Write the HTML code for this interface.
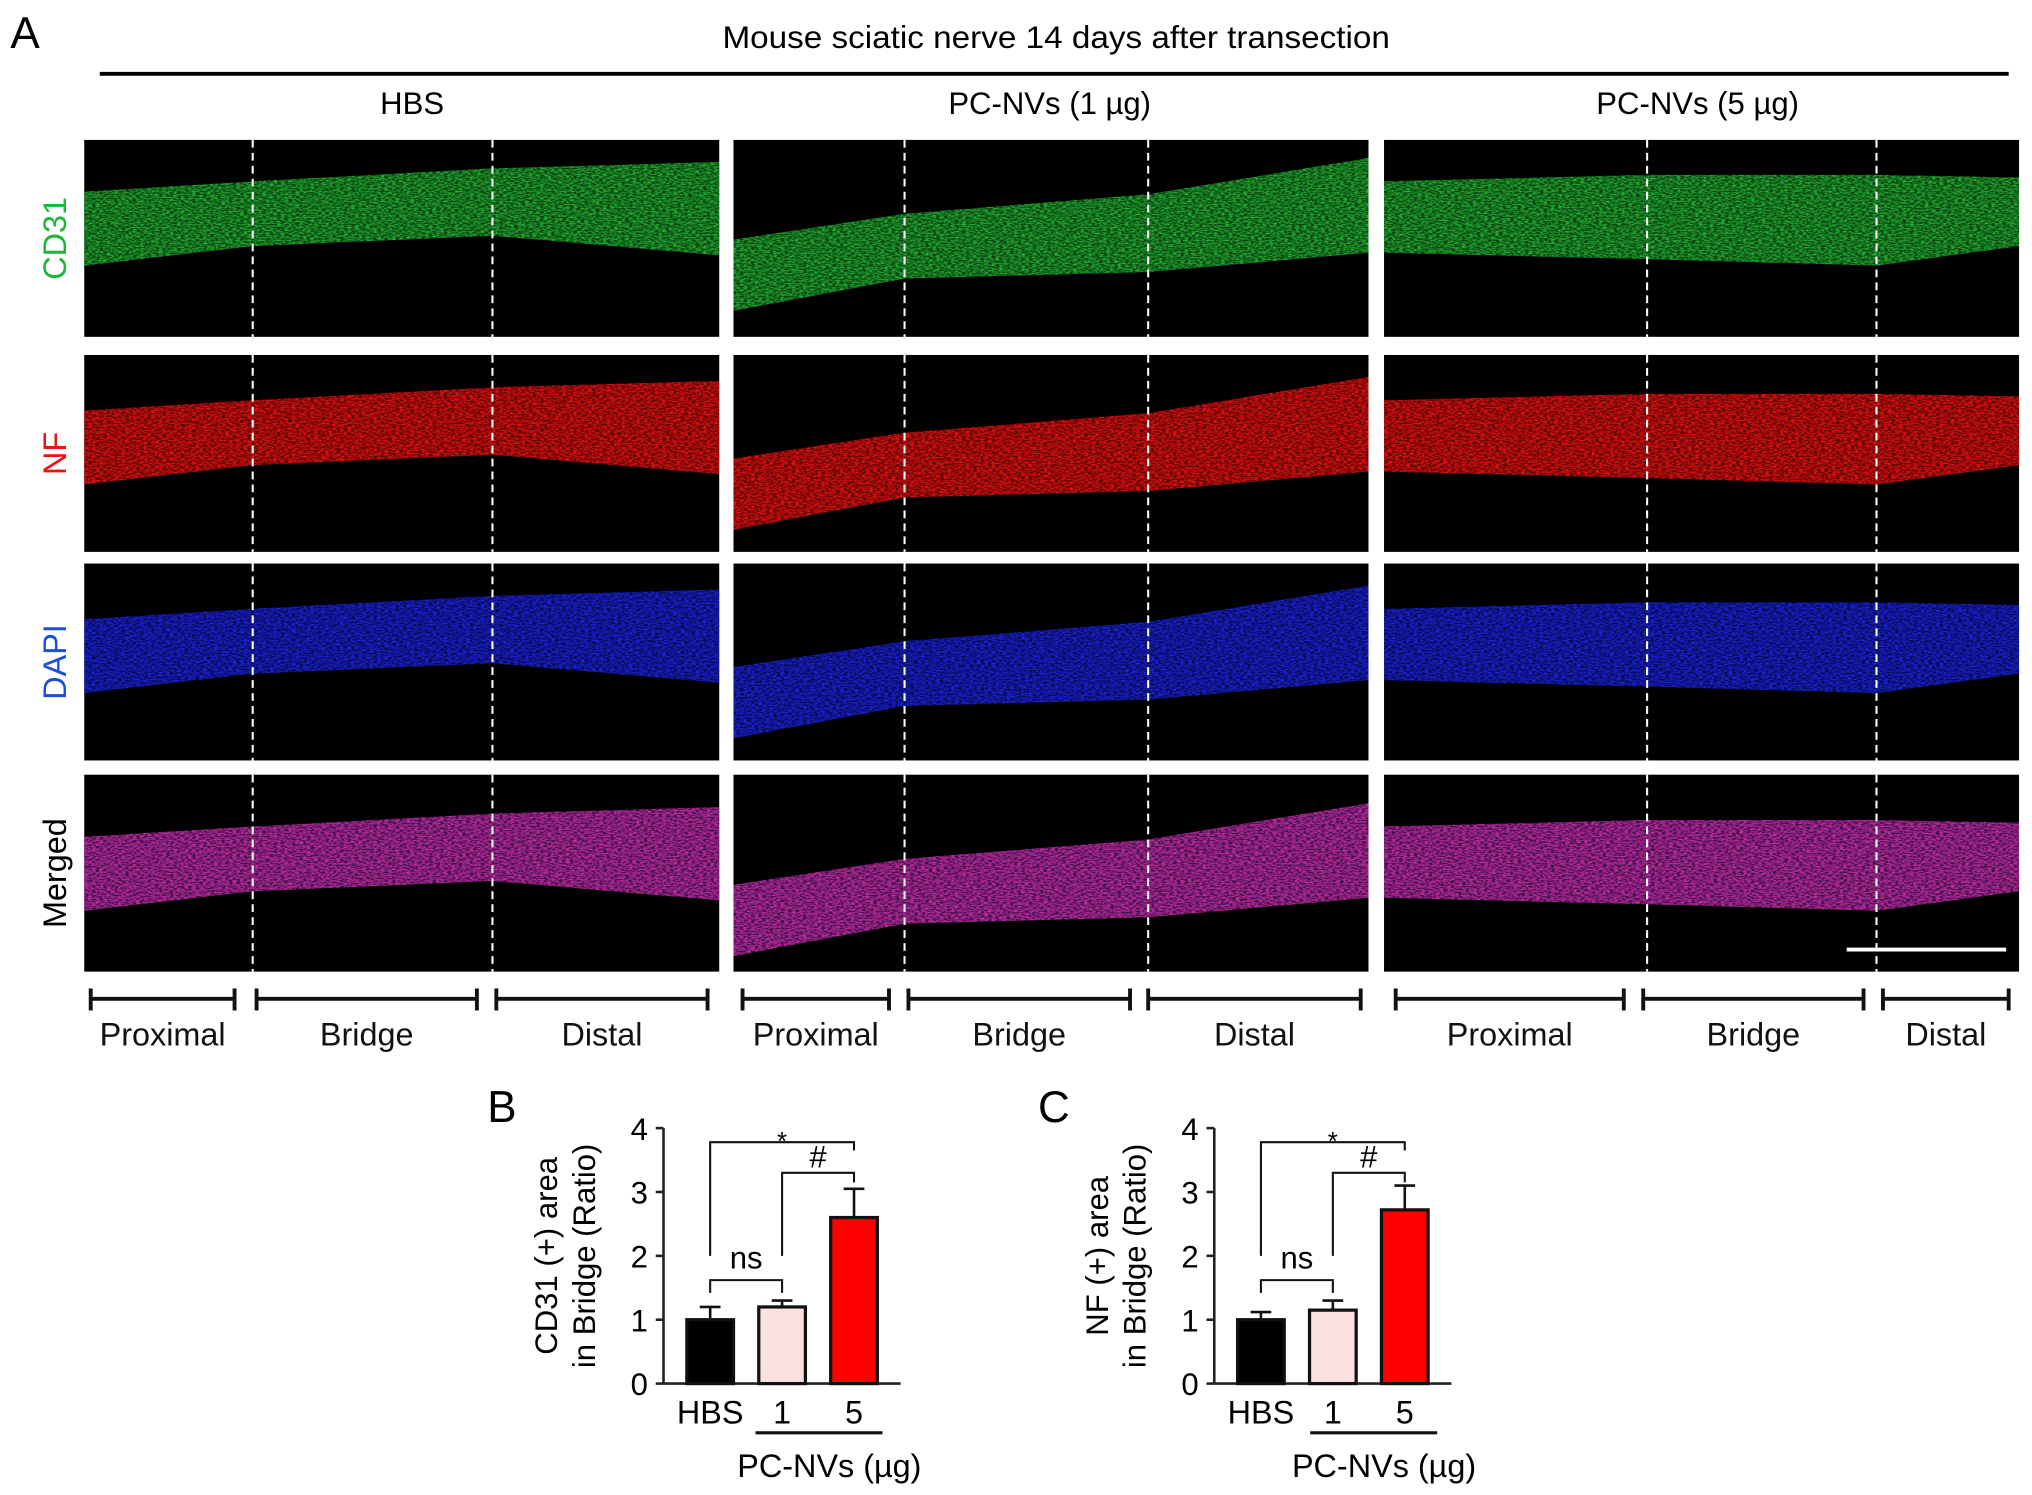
<!DOCTYPE html>
<html><head><meta charset="utf-8">
<style>
html,body{margin:0;padding:0;background:#fff;}
svg{display:block;font-family:"Liberation Sans",Arial,sans-serif;}
</style></head>
<body>
<svg id="fig" width="2032" height="1495" viewBox="0 0 1568 1154" preserveAspectRatio="none" xmlns="http://www.w3.org/2000/svg">
<defs>
<filter id="tex" x="0" y="0" width="100%" height="100%">
<feTurbulence type="fractalNoise" baseFrequency="0.35 0.9" numOctaves="2" seed="3" result="n"/>
<feColorMatrix in="n" type="matrix" values="0 0 0 0 0  0 0 0 0 0  0 0 0 0 0  0 0 0 2.2 -0.6" result="a"/>
<feComposite in="SourceGraphic" in2="a" operator="in"/>
</filter>
</defs>
<text x="8" y="37" font-size="34">A</text>
<text x="815" y="37" font-size="24" text-anchor="middle" textLength="515" lengthAdjust="spacingAndGlyphs">Mouse sciatic nerve 14 days after transection</text>
<line x1="77" y1="57" x2="1550" y2="57" stroke="#000" stroke-width="3"/>
<text x="318" y="88" font-size="24" text-anchor="middle">HBS</text>
<text x="810" y="88" font-size="24" text-anchor="middle">PC-NVs (1 µg)</text>
<text x="1310" y="88" font-size="24" text-anchor="middle">PC-NVs (5 µg)</text>
<g id="rowlabels"></g>
<g id="panels"></g>
<g id="brackets"></g>
<g id="chartB"></g>
<g id="chartC"></g>
</svg>
<script>
const NS="http://www.w3.org/2000/svg";
function mk(tag,attrs,parent){const e=document.createElementNS(NS,tag);for(const k in attrs)e.setAttribute(k,attrs[k]);parent.appendChild(e);return e;}

const rowNames=["CD31","NF","DAPI","Merged"];
const rowColors=["#1db53a","#ee1111","#1a4fd8","#000"];
const rowTops=[108,274,435,598];
const rowH=152;
const RL=document.getElementById('rowlabels');
rowNames.forEach((n,i)=>{
  const cy=rowTops[i]+rowH/2;
  const t=mk('text',{x:0,y:0,'font-size':25,'text-anchor':'middle',fill:rowColors[i],transform:`translate(51,${cy}) rotate(-90)`},RL);
  
  
  t.textContent=n;
});

const colX=[65,566,1068], colW=490;
const dashes=[[195,380],[698,886],[1271,1448]];
const bandTop=[[40,32,22,17],[77,57,42,14],[32,27,27,29]];
const bandBot=[[97,82,74,89],[132,107,102,87],[87,92,97,82]];
const fills=["#20b030","#ee1010","#1a22e0","#a030c8"];
const P=document.getElementById('panels');
for(let c=0;c<3;c++){
  for(let r=0;r<4;r++){
    const y0=rowTops[r], x0=colX[c];
    const g=mk('g',{},P);
    
    
    mk('rect',{x:x0,y:y0,width:colW,height:rowH,fill:"#000"},g);
    const xs=[x0,dashes[c][0],dashes[c][1],x0+colW];
    const off=(r==0?0:(r==3?8:3));
    let pts=xs.map((x,k)=>`${x},${y0+bandTop[c][k]+off}`).concat(xs.slice().reverse().map((x,k)=>`${x},${y0+bandBot[c][3-k]+off}`)).join(' ');
    mk('polygon',{points:pts,fill:fills[r],opacity:0.3},g);
    mk('polygon',{points:pts,fill:fills[r],filter:"url(#tex)"},g);
    if(r==3){ mk('polygon',{points:pts,fill:"#f02050",opacity:0.4,filter:"url(#tex)"},g); }
    dashes[c].forEach(dx=>{
      const l=mk('line',{x1:dx,y1:y0,x2:dx,y2:y0+rowH,stroke:"#fff","stroke-width":1.6,"stroke-dasharray":"6,4"},g);
      
      
    });
  }
}
const sb=mk('line',{x1:1425,y1:733,x2:1548,y2:733,stroke:"#fff","stroke-width":3},P);



const segs=[[[70,181],[198,368],[383,546]],[[573,686],[701,872],[886,1050]],[[1077,1253],[1268,1438],[1453,1550]]];
const segNames=["Proximal","Bridge","Distal"];
const B=document.getElementById('brackets');
segs.forEach((cs,c)=>cs.forEach((s,k)=>{
  const g=mk('g',{stroke:"#111","stroke-width":3},B);
  
  
  mk('line',{x1:s[0],y1:771,x2:s[1],y2:771},g);
  mk('line',{x1:s[0],y1:763,x2:s[0],y2:780},g);
  mk('line',{x1:s[1],y1:763,x2:s[1],y2:780},g);
  const t=mk('text',{x:(s[0]+s[1])/2,y:807,'font-size':25,'text-anchor':'middle',fill:"#111",stroke:"none"},B);
  
  
  t.textContent=segNames[k];
}));

const categories=["HBS","1","5"];
const cd31Means=[1.0,1.2,2.6];
const cd31Errs=[0.2,0.1,0.45];
const nfMeans=[1.0,1.15,2.72];
const nfErrs=[0.12,0.15,0.38];
const yTicks=[0,1,2,3,4];
const barFills=["#000","#fbe0e0","#ff0000"];

function drawChart(gid,ax,letter,title1,title2,means,errs,ulx){
  const G=document.getElementById(gid);
  const y0=1068, unit=49.3, bw=36;
  const y=v=>y0-v*unit;
  const bx=i=>ax+36+i*55.5;
  const L=mk('text',{x:ax-136,y:866,'font-size':34},G);
  
  
  L.textContent=letter;
  const yt1=mk('text',{'font-size':24,'text-anchor':'middle',transform:`translate(${ax-82},${y(2)}) rotate(-90)`},G);
  
  
  yt1.textContent=title1;
  const yt2=mk('text',{'font-size':24,'text-anchor':'middle',transform:`translate(${ax-53},${y(2)}) rotate(-90)`},G);
  
  
  yt2.textContent=title2;
  const ya=mk('line',{x1:ax,y1:y(0),x2:ax,y2:y(4),stroke:"#222","stroke-width":2},G);
  
  
  const xa=mk('line',{x1:ax,y1:y(0),x2:ax+183,y2:y(0),stroke:"#222","stroke-width":2},G);
  
  
  yTicks.forEach(v=>{
    mk('line',{x1:ax-6,y1:y(v),x2:ax,y2:y(v),stroke:"#222","stroke-width":2},G);
    const t=mk('text',{x:ax-12,y:y(v)+9,'font-size':24,'text-anchor':'end'},G);
    
    
    t.textContent=v;
  });
  means.forEach((m,i)=>{
    const cx=bx(i);
    const e=mk('line',{x1:cx,y1:y(m),x2:cx,y2:y(m+errs[i]),stroke:"#111","stroke-width":2},G);
    
    
    mk('line',{x1:cx-8,y1:y(m+errs[i]),x2:cx+8,y2:y(m+errs[i]),stroke:"#111","stroke-width":2},G);
    const r=mk('rect',{x:cx-bw/2,y:y(m),width:bw,height:y(0)-y(m),fill:barFills[i],stroke:"#111","stroke-width":2.5},G);
    
    
    const t=mk('text',{x:cx,y:1099,'font-size':25,'text-anchor':'middle'},G);
    
    
    t.textContent=categories[i];
  });
  const ul=mk('line',{x1:ulx,y1:1106,x2:ulx+98,y2:1106,stroke:"#111","stroke-width":2.5},G);
  
  
  const gt=mk('text',{x:ulx+57,y:1140,'font-size':25,'text-anchor':'middle'},G);
  
  
  gt.textContent="PC-NVs (µg)";
  const sig=[[0,1,1.62,1.42,1.42,"ns",1.8],[1,2,3.3,2.0,3.15,"#",3.38],[0,2,3.78,2.0,3.65,"*",3.9]];
  sig.forEach(s=>{
    const a=bx(s[0]),b=bx(s[1]);
    const p=mk('polyline',{points:`${a},${y(s[3])} ${a},${y(s[2])} ${b},${y(s[2])} ${b},${y(s[4])}`,fill:"none",stroke:"#111","stroke-width":1.6},G);
    
    
    const t=mk('text',{x:(a+b)/2,y:y(s[6])+(s[5]=="*"?12:0),'font-size':s[5]=="*"?20:24,'text-anchor':'middle'},G);
    
    
    t.textContent=s[5];
  });
}
drawChart('chartB',512,"B","CD31 (+) area","in Bridge (Ratio)",cd31Means,cd31Errs,583);
drawChart('chartC',937,"C","NF (+) area","in Bridge (Ratio)",nfMeans,nfErrs,1011);
</script>
</body></html>
